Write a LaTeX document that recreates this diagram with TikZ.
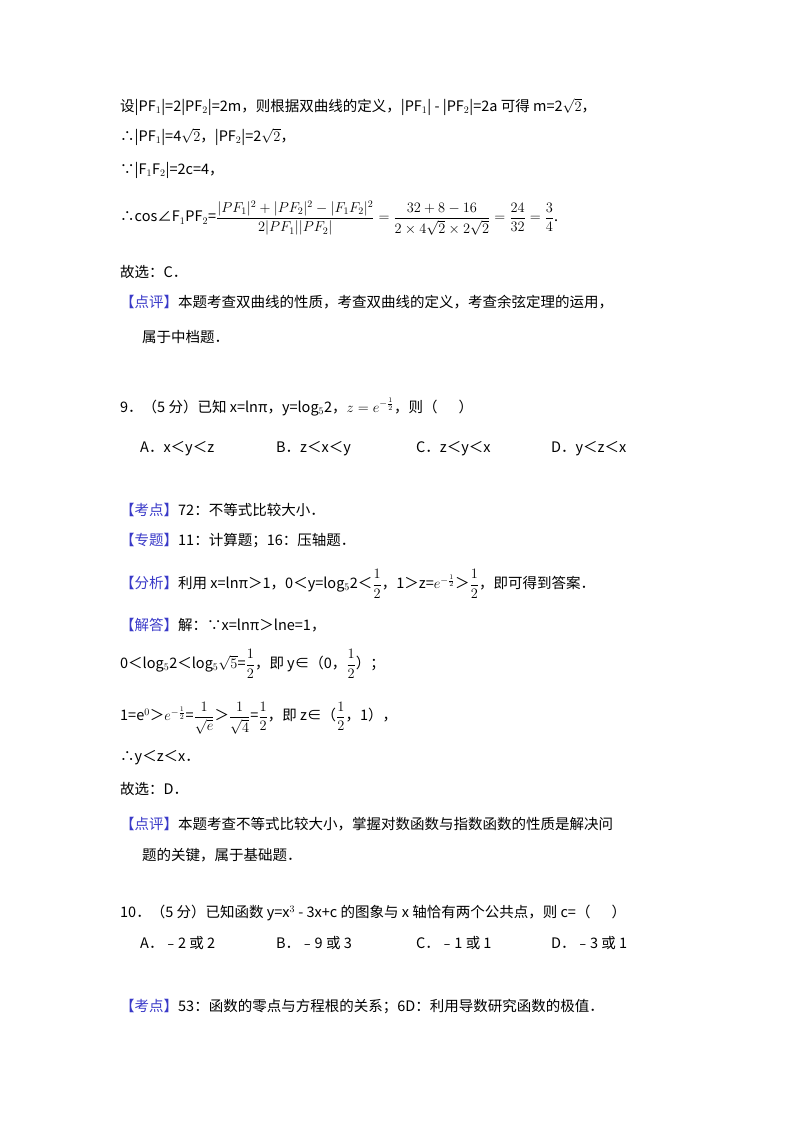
\documentclass[tikz,border=0pt]{standalone}
\usepackage{amsmath}
\usepackage{fontspec}
\setmainfont{Noto Sans CJK SC}
\definecolor{kb}{HTML}{3A3AC8}
\newcommand{\kd}[1]{\textcolor{kb}{【#1】}}
\begin{document}
\begin{tikzpicture}[x=1pt,y=-1pt,every node/.style={anchor=west,inner sep=0pt,font=\fontsize{14.5}{17}\selectfont}]
\useasboundingbox (0,0) rectangle (800,1132);
\node (l1) at (120,107) {设|PF$_1$|=2|PF$_2$|=2m，则根据双曲线的定义，|PF$_1$| - |PF$_2$|=2a 可得 m=2$\sqrt{2}$，};
\node (l2) at (120,137) {∴|PF$_1$|=4$\sqrt{2}$，|PF$_2$|=2$\sqrt{2}$，};
\node (l3) at (120,170) {∵|F$_1$F$_2$|=2c=4，};
\node (l4) at (120,218) {∴cos∠F$_1$PF$_2$=$\dfrac{|PF_1|^2+|PF_2|^2-|F_1F_2|^2}{2|PF_1||PF_2|}=\dfrac{32+8-16}{2\times4\sqrt2\times2\sqrt2}=\dfrac{24}{32}=\dfrac34$.};
\node (l5) at (120,272) {故选：C．};
\node (l6) at (120,302) {\kd{点评}本题考查双曲线的性质，考查双曲线的定义，考查余弦定理的运用，};
\node (l7) at (142,337) {属于中档题．};
\node (l8) at (120,407) {9．（5 分）已知 x=lnπ，y=log$_5$2，$z=e^{-\frac12}$，则（\quad\ \ ）};
\node (a9) at (140,449) {A．x＜y＜z};
\node (b9) at (276,449) {B．z＜x＜y};
\node (c9) at (416,449) {C．z＜y＜x};
\node (d9) at (551,449) {D．y＜z＜x};
\node (l10) at (120,510) {\kd{考点}72：不等式比较大小．};
\node (l11) at (120,541) {\kd{专题}11：计算题；16：压轴题．};
\node (l12) at (120,584) {\kd{分析}利用 x=lnπ＞1，0＜y=log$_5$2＜$\dfrac12$，1＞z=$e^{-\frac12}$＞$\dfrac12$，即可得到答案．};
\node (l13) at (120,625) {\kd{解答}解：∵x=lnπ＞lne=1，};
\node (l14) at (120,664) {0＜log$_5$2＜log$_5\sqrt5$=$\dfrac12$，即 y∈（0，$\dfrac12$）；};
\node (l15) at (120,718) {1=e$^0$＞$e^{-\frac12}$=$\dfrac{1}{\sqrt e}$＞$\dfrac{1}{\sqrt4}$=$\dfrac12$，即 z∈（$\dfrac12$，1），};
\node (l16) at (120,758) {∴y＜z＜x．};
\node (l17) at (120,789) {故选：D．};
\node (l18) at (120,824) {\kd{点评}本题考查不等式比较大小，掌握对数函数与指数函数的性质是解决问};
\node (l19) at (142,855) {题的关键，属于基础题．};
\node (l20) at (120,913) {10．（5 分）已知函数 y=x$^3$ - 3x+c 的图象与 x 轴恰有两个公共点，则 c=（\quad\ \ ）};
\node (a10) at (140,943) {A．﹣2 或 2};
\node (b10) at (276,943) {B．﹣9 或 3};
\node (c10) at (416,943) {C．﹣1 或 1};
\node (d10) at (551,943) {D．﹣3 或 1};
\node (l22) at (120,1007) {\kd{考点}53：函数的零点与方程根的关系；6D：利用导数研究函数的极值．};
\end{tikzpicture}
\end{document}
